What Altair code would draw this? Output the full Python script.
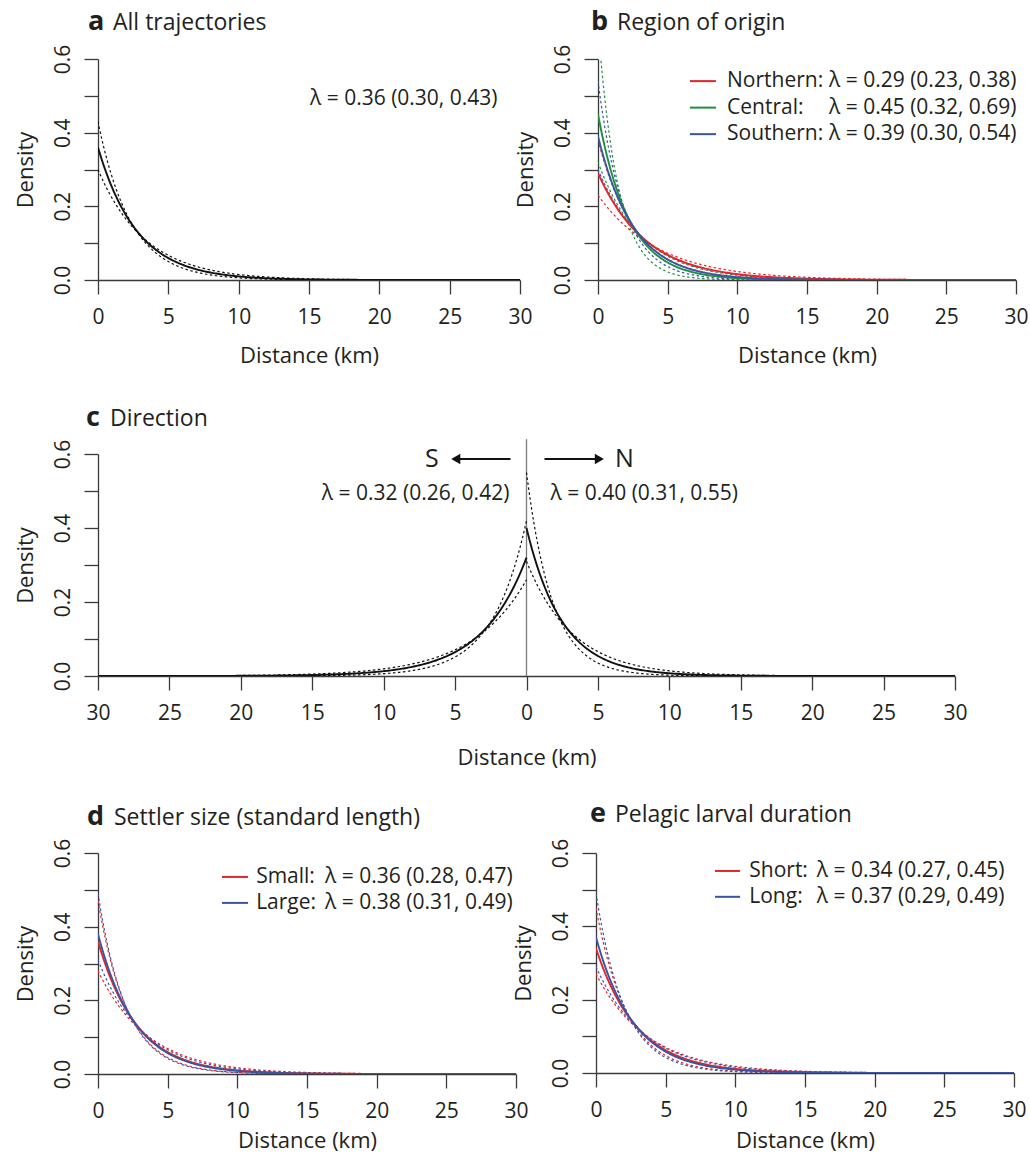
import altair as alt
import pandas as pd

FONT = "Open Sans"
INK = "#231f20"
AXIS_INK = "#3a3a3a"
RED = "#e4262b"
GREEN = "#1f8f3f"
BLUE = "#3a54a4"
BLACK = "#111111"

# ---------------- data ----------------
x_ticks = [0, 5, 10, 15, 20, 25, 30]
x_ticks_c = [-30, -25, -20, -15, -10, -5, 0, 5, 10, 15, 20, 25, 30]
y_ticks = [0.0, 0.1, 0.2, 0.3, 0.4, 0.5, 0.6]

a_groups = ["All trajectories"]
a_lam = [0.36]
a_lo = [0.30]
a_hi = [0.43]

b_groups = ["Northern", "Central", "Southern"]
b_lam = [0.29, 0.45, 0.39]
b_lo = [0.23, 0.32, 0.30]
b_hi = [0.38, 0.69, 0.54]

c_groups = ["S", "N"]
c_side = [-1, 1]
c_lam = [0.32, 0.40]
c_lo = [0.26, 0.31]
c_hi = [0.42, 0.55]

d_groups = ["Small", "Large"]
d_lam = [0.36, 0.38]
d_lo = [0.28, 0.31]
d_hi = [0.47, 0.49]

e_groups = ["Short", "Long"]
e_lam = [0.34, 0.37]
e_lo = [0.27, 0.29]
e_hi = [0.45, 0.49]

panel_letters = ["a", "b", "c", "d", "e"]
panel_titles = ["All trajectories", "Region of origin", "Direction",
                "Settler size (standard length)", "Pelagic larval duration"]


def lam_text(lam, lo, hi):
    return f"\u03bb = {lam:.2f} ({lo:.2f}, {hi:.2f})"


def rate_table(groups, lam, lo, hi, side=None):
    rows = []
    for i, g in enumerate(groups):
        s = side[i] if side else 1
        for kind, r in (("lower", lo[i]), ("upper", hi[i]), ("estimate", lam[i])):
            rows.append({"group": g, "kind": kind, "rate": r, "side": s})
    return pd.DataFrame(rows)


def X(field, dom, ticks, title_pad, label_expr=None):
    ax = dict(values=ticks, title="Distance (km)", titlePadding=title_pad,
              labelPadding=12, tickSize=14, labelFlush=False, labelOverlap=False,
              grid=False)
    if label_expr:
        ax["labelExpr"] = label_expr
    return alt.X(field, type="quantitative",
                 scale=alt.Scale(domain=dom, nice=False, zero=False),
                 axis=alt.Axis(**ax))


def Y(field):
    return alt.Y(field, type="quantitative",
                 scale=alt.Scale(domain=[0, 0.6], nice=False, zero=False),
                 axis=alt.Axis(values=y_ticks, title="Density", titlePadding=15,
                               labelPadding=11, tickSize=14, labelAngle=270,
                               labelAlign="center", labelBaseline="bottom",
                               labelFlush=False, labelOverlap=False, grid=False,
                               labelExpr="round(datum.value*10) % 2 == 0 ? format(datum.value, '.1f') : ''"))


def curves(rates, groups, colors, xf):
    base = alt.Chart(rates).transform_calculate(
        d="sequence(0, 30.05, 0.1)"
    ).transform_flatten(["d"]).transform_calculate(
        x="datum.side * datum.d",
        density="datum.rate * exp(-datum.rate * datum.d)",
        series="datum.group + '|' + datum.kind",
    )
    enc = dict(x=xf("x"), y=Y("density"),
               color=alt.Color("group:N", scale=alt.Scale(domain=groups, range=colors), legend=None),
               detail="series:N")
    dashed = base.transform_filter("datum.kind != 'estimate'").mark_line(
        clip=True, strokeWidth=1.2, strokeDash=[2.5, 2.5]).encode(**enc)
    solid = base.transform_filter("datum.kind == 'estimate'").mark_line(
        clip=True, strokeWidth=1.9).encode(**enc)
    return [dashed, solid]


def panel_title(idx, lx, tx, ty):
    df = pd.DataFrame({"letter": [panel_letters[idx]], "title": [panel_titles[idx]]})
    letter = alt.Chart(df).mark_text(align="left", baseline="alphabetic", font=FONT,
                                     fontSize=27, fontWeight="bold", color=INK).encode(
        x=alt.value(lx), y=alt.value(ty), text="letter:N")
    title = alt.Chart(df).mark_text(align="left", baseline="alphabetic", font=FONT,
                                    fontSize=23, color=INK).encode(
        x=alt.value(tx), y=alt.value(ty), text="title:N")
    return [letter, title]


def legend(groups, lam, lo, hi, colors, xf, line_x, name_x, lam_x, y0, dy):
    df = pd.DataFrame({
        "group": groups,
        "label": [g + ":" for g in groups],
        "lamtext": [lam_text(lam[i], lo[i], hi[i]) for i in range(len(groups))],
    })
    df["yy"] = [y0 - i * dy for i in range(len(groups))]
    df["x1"] = line_x[0]
    df["x2"] = line_x[1]
    df["xn"] = name_x
    df["xl"] = lam_x
    col = alt.Color("group:N", scale=alt.Scale(domain=groups, range=colors), legend=None)
    lines = alt.Chart(df).mark_rule(strokeWidth=2).encode(
        x=xf("x1"), x2="x2", y=Y("yy"), color=col)
    names = alt.Chart(df).mark_text(align="left", baseline="middle", font=FONT,
                                    fontSize=21, color=INK).encode(
        x=xf("xn"), y=Y("yy"), text="label:N")
    lams = alt.Chart(df).mark_text(align="left", baseline="middle", font=FONT,
                                   fontSize=21, color=INK).encode(
        x=xf("xl"), y=Y("yy"), text="lamtext:N")
    return [lines, names, lams]


# ---------------- panel a ----------------
def xa(f):
    return X(f, [0, 30], x_ticks, 18)


a_ann = pd.DataFrame({"t": [lam_text(a_lam[0], a_lo[0], a_hi[0])], "x": [15.07], "y": [0.491]})
panel_a = alt.layer(
    *curves(rate_table(a_groups, a_lam, a_lo, a_hi), a_groups, [BLACK], xa),
    alt.Chart(a_ann).mark_text(align="left", baseline="middle", font=FONT, fontSize=21,
                               color=INK).encode(x=xa("x"), y=Y("y"), text="t:N"),
    *panel_title(0, -10, 15, -29),
).properties(width=422, height=221)

# ---------------- panel b ----------------
def xb(f):
    return X(f, [0, 30], x_ticks, 18)


panel_b = alt.layer(
    *curves(rate_table(b_groups, b_lam, b_lo, b_hi), b_groups, [RED, GREEN, BLUE], xb),
    *legend(b_groups, b_lam, b_lo, b_hi, [RED, GREEN, BLUE], xb,
            (6.6, 8.47), 9.26, 16.58, 0.540, 0.072),
    *panel_title(1, -7, 19, -29),
).properties(width=418, height=221)

# ---------------- panel c ----------------
def xc(f):
    return X(f, [-30, 30], x_ticks_c, 24, "'' + abs(datum.value)")


c_center = pd.DataFrame({"x": [0.0], "y": [0.0], "y2": [0.64]})
c_lams = pd.DataFrame({
    "t": [lam_text(c_lam[i], c_lo[i], c_hi[i]) for i in range(2)],
    "x": [-1.2, 1.68], "y": [0.492, 0.492], "al": ["right", "left"]})
c_dirs = pd.DataFrame({"t": c_groups, "x": [-6.15, 6.2], "y": [0.5865, 0.5865]})
c_shafts = pd.DataFrame({"x": [-1.12, 1.26], "x2": [-4.9, 5.0], "y": [0.5865, 0.5865]})
c_heads = pd.DataFrame({"x": [-4.95, 5.1], "y": [0.5865, 0.5865],
                        "shape": ["triangle-left", "triangle-right"]})

panel_c = alt.layer(
    alt.Chart(c_center).mark_rule(color="#7a7a7a", strokeWidth=1.3).encode(
        x=xc("x"), y=Y("y"), y2="y2"),
    *curves(rate_table(c_groups, c_lam, c_lo, c_hi, c_side), c_groups, [BLACK, BLACK], xc),
    alt.Chart(c_lams[c_lams.al == "right"]).mark_text(align="right", baseline="middle", font=FONT,
                                                       fontSize=21, color=INK).encode(
        x=xc("x"), y=Y("y"), text="t:N"),
    alt.Chart(c_lams[c_lams.al == "left"]).mark_text(align="left", baseline="middle", font=FONT,
                                                      fontSize=21, color=INK).encode(
        x=xc("x"), y=Y("y"), text="t:N"),
    alt.Chart(c_dirs.iloc[[0]]).mark_text(align="right", baseline="middle", font=FONT,
                                          fontSize=25, color=INK).encode(
        x=xc("x"), y=Y("y"), text="t:N"),
    alt.Chart(c_dirs.iloc[[1]]).mark_text(align="left", baseline="middle", font=FONT,
                                          fontSize=25, color=INK).encode(
        x=xc("x"), y=Y("y"), text="t:N"),
    alt.Chart(c_shafts).mark_rule(color=BLACK, strokeWidth=2).encode(
        x=xc("x"), x2="x2", y=Y("y")),
    alt.Chart(c_heads).mark_point(filled=True, color=BLACK, size=110, opacity=1).encode(
        x=xc("x"), y=Y("y"),
        shape=alt.Shape("shape:N", scale=alt.Scale(domain=["triangle-left", "triangle-right"],
                                                    range=["triangle-left", "triangle-right"]),
                        legend=None)),
    *panel_title(2, -12, 12, -28),
).properties(width=857, height=222)

# ---------------- panel d ----------------
def xd(f):
    return X(f, [0, 30], x_ticks, 9)


panel_d = alt.layer(
    *curves(rate_table(d_groups, d_lam, d_lo, d_hi), d_groups, [RED, BLUE], xd),
    *legend(d_groups, d_lam, d_lo, d_hi, [RED, BLUE], xd,
            (8.9, 10.77), 11.35, 16.3, 0.535, 0.0705),
    *panel_title(3, -11, 16, -28),
).properties(width=418, height=221)

# ---------------- panel e ----------------
def xe(f):
    return X(f, [0, 30], x_ticks, 10)


panel_e = alt.layer(
    *curves(rate_table(e_groups, e_lam, e_lo, e_hi), e_groups, [RED, BLUE], xe),
    *legend(e_groups, e_lam, e_lo, e_hi, [RED, BLUE], xe,
            (8.54, 10.34), 11.0, 15.85, 0.551, 0.0705),
    *panel_title(4, -6, 19, -31),
).properties(width=418, height=220)

row1 = alt.hconcat(panel_a, panel_b, spacing=78, bounds="flush").resolve_scale(color="independent")
row3 = alt.hconcat(panel_d, panel_e, spacing=80, bounds="flush").resolve_scale(color="independent")

upper = alt.vconcat(row1, panel_c, spacing=38).resolve_scale(color="independent", shape="independent")

chart = alt.vconcat(upper, row3, spacing=32).resolve_scale(
    color="independent", shape="independent"
).properties(
    padding={"left": 14, "top": 8, "right": 0, "bottom": 4},
    background="white",
).configure_view(stroke=None).configure_axis(
    domainColor=AXIS_INK, domainWidth=1.3, tickColor=AXIS_INK, tickWidth=1.3,
    labelFont=FONT, labelFontSize=21, labelColor=INK,
    titleFont=FONT, titleFontSize=22, titleFontWeight="normal", titleColor=INK,
).configure_text(font=FONT)

chart.save("out.html", embed_options={"renderer": "svg", "actions": False})
